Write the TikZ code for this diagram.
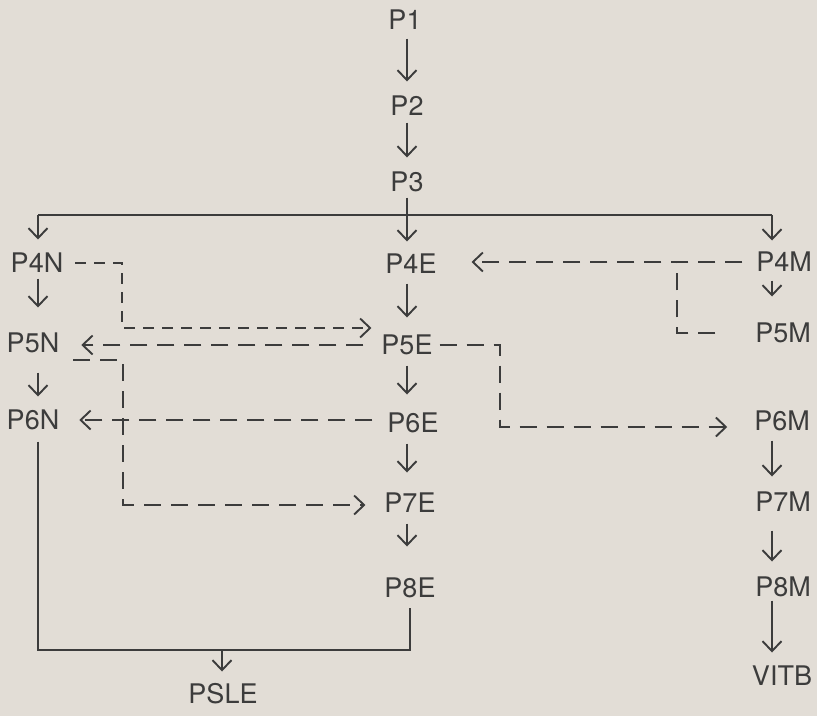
\documentclass[tikz,border=0pt]{standalone}
\usepackage{fontspec}
\setmainfont{TeX Gyre Heros}
\usetikzlibrary{arrows.meta}
\definecolor{bg}{HTML}{E2DDD6}
\definecolor{ink}{HTML}{3C3C3C}
\begin{document}
\begin{tikzpicture}[x=1pt,y=-1pt,
 lab/.style={font=\fontsize{27}{27}\selectfont, text=ink, inner sep=0pt, outer sep=0pt, text height=19pt, text depth=0pt},
 ln/.style={draw=ink, line width=2.1pt},
 arr/.style={ln, -{Straight Barb[length=10pt,width=19pt,line width=1.9pt]}},
 dsh/.style={ln, dash pattern=on 17pt off 10pt},
 darr/.style={dsh, -{Straight Barb[length=10pt,width=19pt,line width=1.9pt]}}]
\fill[bg] (0,0) rectangle (817,716);
\useasboundingbox (0,0) rectangle (817,716);
% nodes
\node[lab] (P1) at (405,20) {P1};
\node[lab] (P2) at (407,106) {P2};
\node[lab] (P3) at (407,182) {P3};
\node[lab] (P4N) at (37,263) {P4N};
\node[lab] (P4E) at (411,264) {P4E};
\node[lab] (P4M) at (784,262) {P4M};
\node[lab] (P5N) at (33,343) {P5N};
\node[lab] (P5E) at (407,345) {P5E};
\node[lab] (P5M) at (783,333) {P5M};
\node[lab] (P6N) at (33,420) {P6N};
\node[lab] (P6E) at (413,423) {P6E};
\node[lab] (P6M) at (782,421) {P6M};
\node[lab] (P7E) at (410,503) {P7E};
\node[lab] (P7M) at (783,502) {P7M};
\node[lab] (P8E) at (410,588) {P8E};
\node[lab] (P8M) at (783,587) {P8M};
\node[lab] (PSLE) at (223,694) {PSLE};
\node[lab] (VITB) at (782,676) {VITB};
% helper coordinates
\coordinate (j3) at (407,215);
\coordinate (jL) at (38,215);
\coordinate (jR) at (772,215);
\coordinate (bL) at (38,650);
\coordinate (bR) at (410,650);
\coordinate (bP) at (222,650);
\coordinate (k1) at (122,263);
\coordinate (k2) at (122,328);
\coordinate (k3) at (123,360);
\coordinate (k4) at (123,505);
\coordinate (k5) at (500,345);
\coordinate (k6) at (500,427);
\coordinate (k7) at (677,333);
\coordinate (k8) at (677,262);
% top trunk
\draw[arr, shorten <=9pt, shorten >=15pt] (P2.north |- P1.south) -- (P2.north);
\draw[arr, shorten <=7pt, shorten >=15pt] (P2.south) -- (P3.north);
\draw[ln, shorten <=6pt] (P3.south) -- (j3);
\draw[ln] (jL) -- (jR);
\draw[arr, shorten >=14pt] (jL) -- (jL |- P4N.north);
\draw[arr, shorten >=13pt] (j3) -- (j3 |- P4E.north);
\draw[arr, shorten >=12pt] (jR) -- (jR |- P4M.north);
% N column
\draw[arr, shorten <=6pt, shorten >=26pt] (P4N.south -| jL) -- (P5N.north -| jL);
\draw[arr, shorten <=20pt, shorten >=14pt] (P5N.south -| jL) -- (P6N.north -| jL);
\draw[ln, shorten <=12pt, shorten >=10pt] (P6N.south -| jL) -- (bL) -- (bR) -- (P8E.south -| bR);
\draw[arr, shorten >=13pt] (bP) -- (PSLE.north -| bP);
% E column
\draw[arr, shorten <=10pt, shorten >=18pt] (P4E.south -| j3) -- (P5E.north -| j3);
\draw[arr, shorten <=11pt, shorten >=19pt] (P5E.south -| j3) -- (P6E.north -| j3);
\draw[arr, shorten <=11pt, shorten >=21pt] (P6E.south -| j3) -- (P7E.north -| j3);
\draw[arr, shorten <=11pt, shorten >=32pt] (P7E.south -| j3) -- (P8E.north -| j3);
% M column
\draw[arr, shorten <=9pt, shorten >=27pt] (P4M.south -| jR) -- (P5M.north -| jR);
\draw[arr, shorten <=10pt, shorten >=16pt] (P6M.south -| jR) -- (P7M.north -| jR);
\draw[arr, shorten <=19pt, shorten >=16pt] (P7M.south -| jR) -- (P8M.north -| jR);
\draw[arr, shorten <=4pt, shorten >=14pt] (P8M.south -| jR) -- (VITB.north -| jR);
% dashed transfers
\draw[darr, dash pattern=on 11pt off 8pt, shorten <=12pt, shorten >=10pt] (P4N.east) -- (k1) -- (k2) -- (P5E.west |- k2);
\draw[darr, shorten <=18pt, shorten >=22pt] (P5E.west) -- (P5N.east |- P5E.west);
\draw[darr, shorten <=14pt, shorten >=19pt] (k3 -| P5N.east) -- (k3) -- (k4) -- (P7E.west |- k4);
\draw[darr, shorten <=15pt, shorten >=20pt] (P6E.west |- P6N.east) -- (P6N.east);
\draw[darr, shorten <=7pt, shorten >=27pt] (P5E.east) -- (k5) -- (k6) -- (P6M.west |- k6);
\draw[darr, shorten <=14pt, shorten >=35pt] (P4M.west) -- (P4E.east |- P4M.west);
\draw[dsh, shorten <=40pt] (P5M.west) -- (k7) -- (k8);
\end{tikzpicture}
\end{document}
